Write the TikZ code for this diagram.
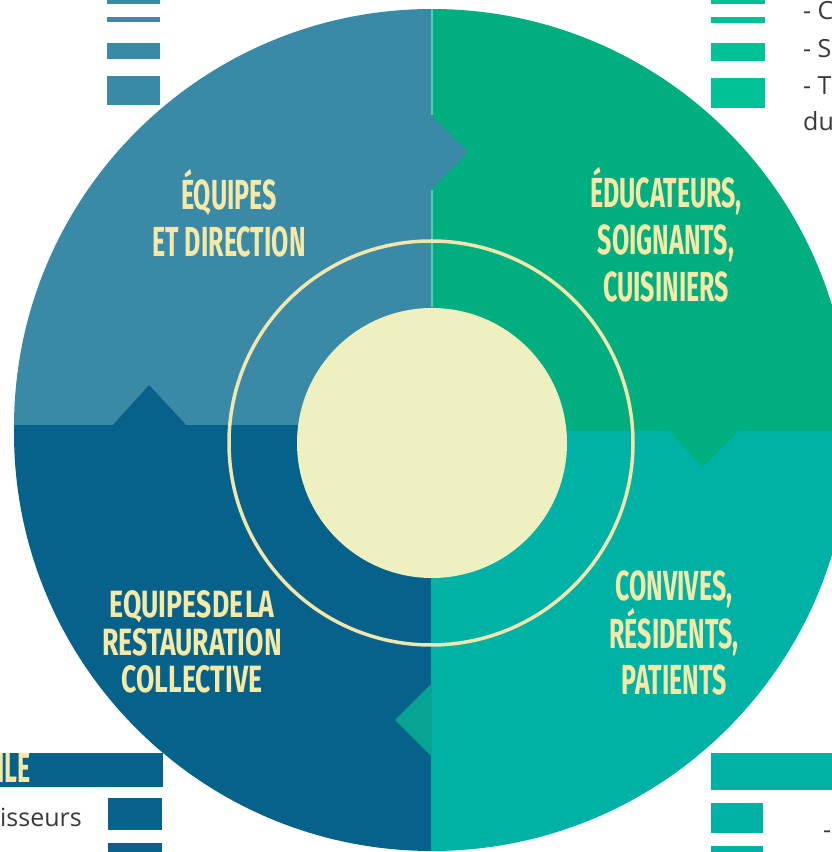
\documentclass[tikz,border=0pt]{standalone}
\usepackage{fontspec}
\newfontfamily\capsfont[FakeStretch=0.595]{Fira Sans}
\newfontfamily\capstight[FakeStretch=0.70,WordSpace=0.2]{Fira Sans}
\newfontfamily\notefont{Open Sans}
\definecolor{qtl}{HTML}{3A89A7}
\definecolor{qtr}{HTML}{00AE80}
\definecolor{qbl}{HTML}{06628A}
\definecolor{qbr}{HTML}{00B2A6}
\definecolor{qnotch}{HTML}{08A493}
\definecolor{barlight}{HTML}{00C296}
\definecolor{cream}{HTML}{F4E9A7}
\definecolor{discfill}{HTML}{EFF0C0}
\definecolor{ringcol}{HTML}{F1E7AC}
\definecolor{notegray}{HTML}{3A3A3A}
\begin{document}
\begin{tikzpicture}[x=1pt,y=1pt,
  lbl/.style={text=cream, align=center, anchor=base, inner sep=0pt,
    font=\capsfont\bfseries\fontsize{42}{47}\selectfont},
  lbltight/.style={text=cream, align=center, anchor=base, inner sep=0pt,
    font=\capstight\bfseries\fontsize{38}{37.5}\selectfont},
  note/.style={text=notegray, inner sep=0pt, font=\notefont\fontsize{25}{30}\selectfont},
  divider/.style={draw=white!35!qtr, line width=1.3pt},
  ring/.style={draw=ringcol, line width=3.5pt},
]
\useasboundingbox (0,0) rectangle (832,852);
\clip (0,0) rectangle (832,852);

% side bars, upper left
\fill[qtl] (107,848) rectangle (160,856);
\fill[qtl] (107,830) rectangle (160,835);
\fill[qtl] (107,793) rectangle (160,809);
\fill[qtl] (107,747) rectangle (160,776);
% side bars, upper right
\fill[barlight] (711,848) rectangle (765,856);
\fill[barlight] (711,829) rectangle (765,835);
\fill[barlight] (711,791) rectangle (765,809);
\fill[barlight] (711,744) rectangle (765,774);
% side bars, lower left
\fill[qbl] (-2,65) rectangle (163,99);
\fill[qbl] (108,22) rectangle (162,54);
\fill[qbl] (108,-4) rectangle (162,9);
% side bars, lower right
\fill[qbr] (711,62) rectangle (836,99);
\fill[qbr] (711,19) rectangle (763,49);
\fill[qbr] (711,-4) rectangle (763,6);

% four quarters of the wheel
\fill[qbl] (431,427) -- (14,427) -- (14,419) arc[start angle=180,end angle=270,radius=418pt] -- cycle;
\fill[qbr] (431,421) -- (851,421) -- (850,419) arc[start angle=0,end angle=-90,radius=418pt] -- (431,1) -- cycle;
\fill[qtl] (432,427) -- (14,427) -- (14,425) arc[start angle=180,end angle=90,radius=418pt] -- cycle;
\fill[qtr] (432,421) -- (851,421) -- (850,425) arc[start angle=0,end angle=90,radius=418pt] -- cycle;

% arrow notches between neighbouring quarters
\fill[qbl] (112,426) -- (149,467) -- (187,426) -- cycle;
\fill[qtl] (431,737) -- (468,700) -- (431,662) -- cycle;
\fill[qtr] (668,422) -- (703,385) -- (740,422) -- cycle;
\fill[qnotch] (432,169) -- (395,132) -- (432,95) -- cycle;

% thin light seam between the two upper quarters
\draw[divider] (432,843) -- (432,737);
\draw[divider] (432,662) -- (432,545);

% centre ring and disc
\draw[ring] (431,409) circle[radius=202pt];
\fill[discfill] (432,409) circle[radius=135pt];

% quarter labels (anchored on the baseline of their last line)
\node[lbl] (tl) at (229,595) {ÉQUIPES\\ET DIRECTION};
\node[lbl] (tr) at (666,550) {ÉDUCATEURS,\\SOIGNANTS,\\CUISINIERS};
\node[lbltight] (bl) at (192,159) {EQUIPES DE LA\\RESTAURATION\\COLLECTIVE};
\node[lbl,font=\capsfont\bfseries\fontsize{42}{46}\selectfont] (br) at (674,157) {CONVIVES,\\RÉSIDENTS,\\PATIENTS};

% text on the lower left bar
\node[lbl, anchor=base east] (ile) at (31,69) {ILE};

% side notes
\node[note, anchor=base west] (n1) at (803,832) {- C};
\node[note, anchor=base west] (n2) at (803,794) {- S};
\node[note, anchor=base west] (n3) at (803,757) {- T};
\node[note, anchor=base west] (n4) at (803,721) {du};
\node[note, anchor=base east] (n5) at (82,25) {isseurs};
\node[note, anchor=base west] (n6) at (823,13) {-};
\end{tikzpicture}
\end{document}
